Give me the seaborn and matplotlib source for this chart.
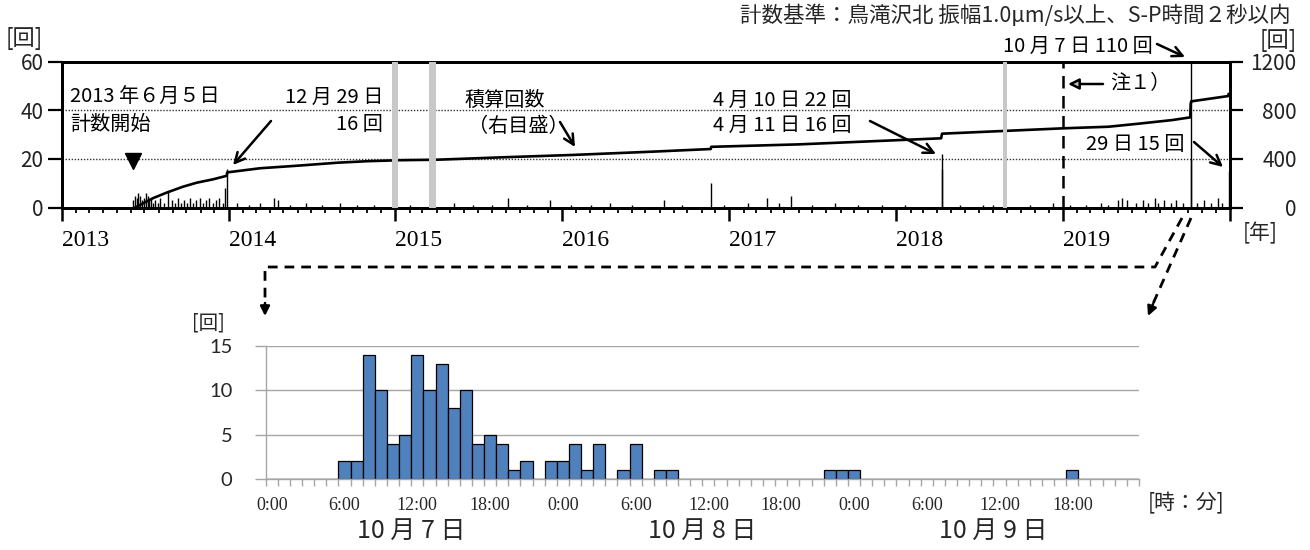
import numpy as np
import pandas as pd
import matplotlib
matplotlib.use("Agg")
import matplotlib.pyplot as plt
import matplotlib.dates as mdates
import matplotlib.transforms as mtransforms
from matplotlib.lines import Line2D
import seaborn as sns

# ---------------- data: long-term chart ----------------
# daily counts (left axis, bars)
spike_dates = [
    "2013-06-06", "2013-06-10", "2013-06-14", "2013-06-18", "2013-06-22", "2013-06-26",
    "2013-06-30", "2013-07-04", "2013-07-08", "2013-07-12", "2013-07-16", "2013-07-20",
    "2013-07-25", "2013-07-30", "2013-08-05", "2013-08-12", "2013-08-22", "2013-08-30",
    "2013-09-06", "2013-09-12", "2013-09-18", "2013-09-25", "2013-10-02", "2013-10-08",
    "2013-10-15", "2013-10-22", "2013-10-30", "2013-11-06", "2013-11-13", "2013-11-20",
    "2013-11-27", "2013-12-05", "2013-12-12", "2013-12-20", "2013-12-24", "2013-12-29",
    "2014-01-20", "2014-02-15", "2014-03-10", "2014-04-10", "2014-04-20", "2014-05-15",
    "2014-06-20", "2014-07-25", "2014-09-01", "2014-10-10", "2014-11-15",
    "2015-02-01", "2015-05-10", "2015-06-20", "2015-08-01", "2015-09-05", "2015-10-15",
    "2015-12-05",
    "2016-01-20", "2016-03-05", "2016-04-15", "2016-06-01", "2016-08-10", "2016-09-20",
    "2016-11-22", "2016-12-20",
    "2017-02-10", "2017-03-25", "2017-04-20", "2017-05-15", "2017-07-01", "2017-08-20",
    "2017-10-10", "2017-12-01",
    "2018-01-20", "2018-04-10", "2018-04-11", "2018-05-20", "2018-07-10", "2018-08-01",
    "2018-10-20", "2018-12-10",
    "2019-01-15", "2019-02-20", "2019-03-25", "2019-04-10", "2019-05-01", "2019-05-10",
    "2019-05-20", "2019-06-10", "2019-06-25", "2019-07-05", "2019-07-20", "2019-07-28",
    "2019-08-10", "2019-08-25", "2019-09-05", "2019-09-20", "2019-10-07", "2019-10-08",
    "2019-10-20", "2019-11-05", "2019-11-20", "2019-12-05", "2019-12-15", "2019-12-29",
]
spike_counts = [
    3, 5, 4, 6, 5, 3,
    4, 6, 5, 3, 4, 2,
    3, 2, 4, 2, 7, 3,
    2, 4, 2, 3, 2, 4,
    2, 3, 4, 2, 3, 4,
    2, 3, 4, 2, 8, 16,
    2, 1, 2, 4, 3, 1,
    2, 1, 2, 1, 1,
    1, 2, 1, 1, 4, 1,
    3,
    1, 1, 2, 1, 3, 1,
    10, 1,
    2, 4, 2, 5, 1, 2,
    1, 1,
    1, 22, 16, 1, 1, 1,
    1, 2,
    1, 1, 2, 1, 3, 4,
    3, 2, 3, 2, 4, 2,
    3, 2, 3, 2, 110, 20,
    2, 3, 2, 4, 2, 15,
]

# cumulative number (right axis)
cum_dates = [
    "2013-06-10", "2013-07-19", "2013-08-18", "2013-09-23", "2013-10-23", "2013-11-28",
    "2013-12-28", "2013-12-29", "2014-03-11", "2014-06-01", "2014-08-29", "2014-11-01",
    "2014-12-24", "2015-01-07", "2015-04-01", "2015-09-01", "2016-01-22", "2016-07-15",
    "2016-11-21", "2016-11-22", "2017-06-01", "2018-04-09", "2018-04-11", "2018-08-22",
    "2019-01-01", "2019-04-10", "2019-06-15", "2019-08-28", "2019-10-06", "2019-10-07",
    "2019-10-08", "2019-10-09", "2019-12-28", "2019-12-29",
]
cum_values = [
    0, 77, 123, 172, 205, 233,
    262, 290, 324, 345, 370, 382,
    388, 390, 394, 415, 433, 460,
    482, 500, 520, 570, 608, 630,
    652, 665, 690, 720, 742, 852,
    872, 874, 917, 935,
]

gap_starts = ["2014-12-25", "2015-03-15", "2018-08-22"]
gap_ends = ["2015-01-07", "2015-03-31", "2018-09-01"]
note_date = "2019-01-01"
start_date = "2013-06-05"

left_ticks = [0, 20, 40, 60]
right_ticks = [0, 400, 800, 1200]
year_ticks = ["2013", "2014", "2015", "2016", "2017", "2018", "2019", "2020"]
year_labels = ["2013", "2014", "2015", "2016", "2017", "2018", "2019", ""]

# ---------------- data: hourly histogram (10/7 - 10/9) ----------------
hist_hours = [6, 7, 8, 9, 10, 11, 12, 13, 14, 15, 16, 17, 18, 19, 20, 21,
              23, 24, 25, 26, 27, 29, 30, 32, 33, 46, 47, 48, 66]
hist_counts = [2, 2, 14, 10, 4, 5, 14, 10, 13, 8, 10, 4, 5, 4, 1, 2,
               2, 2, 4, 1, 4, 1, 4, 1, 1, 1, 1, 1, 1]
hist_tick_hours = [0, 6, 12, 18, 24, 30, 36, 42, 48, 54, 60, 66]
hist_tick_labels = ["0:00", "6:00", "12:00", "18:00"] * 3
day_hours = [12, 36, 60]
day_labels = ["10 月 7 日", "10 月 8 日", "10 月 9 日"]
hist_yticks = [0, 5, 10, 15]

# ---------------- styling ----------------
sns.set_theme(style="white")
plt.rcParams["font.family"] = ["Noto Sans CJK JP", "DejaVu Sans"]
plt.rcParams["axes.unicode_minus"] = False

W, H = 1310, 550
fig = plt.figure(figsize=(W / 100, H / 100), dpi=100)


def fx(x):
    return x / W


def fy(y):
    return 1 - y / H


# ---- top axes ----
L, R, T, B = 61.7, 1230, 61.6, 207.7
ax = fig.add_axes([fx(L), fy(B), (R - L) / W, (B - T) / H])
ax2 = ax.twinx()

sd = pd.to_datetime(spike_dates)
ax.vlines(sd, 0, spike_counts, color="black", lw=1.0, zorder=2)
ax.set_ylim(0, 60)
ax.set_yticks(left_ticks)
ax.grid(axis="y", ls=(0, (1, 1.2)), color="#333333", lw=1.0)
ax.grid(axis="x", visible=False)
ax.set_axisbelow(True)

cum_df = pd.DataFrame({"date": pd.to_datetime(cum_dates), "cum": cum_values})
sns.lineplot(data=cum_df, x="date", y="cum", ax=ax2, color="black", lw=1.9,
             estimator=None, zorder=3)
ax2.set_ylim(0, 1200)
ax2.set_yticks(right_ticks)
ax2.set_ylabel("")
ax2.set_xlabel("")
ax.set_xlabel("")
ax2.grid(False)

for s, e in zip(gap_starts, gap_ends):
    ax2.axvspan(pd.Timestamp(s), pd.Timestamp(e), color="#c8c8c8", lw=0, zorder=5)

ax2.axvline(pd.Timestamp(note_date), color="black", lw=1.8, ls=(0, (5, 3)), zorder=6)
ax2.plot([pd.Timestamp(start_date)], [19.2 * 20], marker="v", ms=11, color="black",
         ls="none", zorder=6, clip_on=False)

xt = pd.to_datetime(year_ticks)
ax.set_xlim(xt[0], xt[-1])
ax.set_xticks(xt)
ax.set_xticklabels(year_labels, family="Liberation Serif", fontsize=17)
for lab in ax.get_xticklabels():
    lab.set_horizontalalignment("left")
ax.xaxis.set_minor_locator(mdates.MonthLocator())
ax.tick_params(axis="x", which="major", direction="out", length=9, width=1.8,
               pad=7, bottom=True, colors="black")
ax.tick_params(axis="x", which="minor", direction="out", length=3.5, width=1.3,
               bottom=True, color="black")
ax.tick_params(axis="y", direction="out", length=10, width=1.6, pad=3, left=True,
               labelsize=15, colors="#222222")
ax.tick_params(axis="y", color="black")
ax2.tick_params(axis="y", direction="out", length=9, width=1.6, pad=39, right=True,
                labelsize=15, colors="#222222")
ax2.tick_params(axis="y", color="black")
for lab in ax2.get_yticklabels():
    lab.set_horizontalalignment("right")
for a in (ax, ax2):
    for sp in a.spines.values():
        sp.set_linewidth(2.0)
        sp.set_color("black")

# ---- top texts ----
txt = dict(fontsize=14.5, color="black")
fig.text(fx(1290), fy(16), "計数基準：鳥滝沢北 振幅1.0μm/s以上、S-P時間２秒以内",
         ha="right", va="center", fontsize=15.5)
fig.text(fx(6), fy(39), "[回]", ha="left", va="center", fontsize=16)
fig.text(fx(1297), fy(41), "[回]", ha="right", va="center", fontsize=16)
fig.text(fx(1243), fy(233), "[年]", ha="left", va="center", fontsize=15)
fig.text(fx(70), fy(97), "2013 年６月５日", ha="left", va="center", **txt)
fig.text(fx(70), fy(124), "計数開始", ha="left", va="center", **txt)
fig.text(fx(383), fy(97), "12 月 29 日", ha="right", va="center", **txt)
fig.text(fx(383), fy(124), "16 回", ha="right", va="center", **txt)
fig.text(fx(465), fy(100), "積算回数", ha="left", va="center", **txt)
fig.text(fx(468), fy(127), "（右目盛）", ha="left", va="center", **txt)
fig.text(fx(713), fy(100), "4 月 10 日 22 回", ha="left", va="center", **txt)
fig.text(fx(713), fy(125), "4 月 11 日 16 回", ha="left", va="center", **txt)
fig.text(fx(1153), fy(46), "10 月 7 日 110 回", ha="right", va="center", **txt)
fig.text(fx(1185), fy(144), "29 日 15 回", ha="right", va="center", **txt)
fig.text(fx(1110), fy(84), "注１）", ha="left", va="center", **txt)


def arrow(x1, y1, x2, y2, style="->", fc="black", ms=18):
    ax.annotate("", xy=(fx(x2), fy(y2)), xycoords="figure fraction",
                xytext=(fx(x1), fy(y1)), textcoords="figure fraction",
                arrowprops=dict(arrowstyle=style, lw=1.8, edgecolor="black",
                                facecolor=fc, mutation_scale=ms,
                                shrinkA=0, shrinkB=0),
                annotation_clip=False)


arrow(271, 121, 233, 165)
arrow(560, 122, 575, 147)
arrow(870, 121, 936, 154)
arrow(1157, 44, 1185, 57)
arrow(1194, 142, 1223, 167)
arrow(1103, 84, 1068, 84, style="-|>", fc="#c0c0c0", ms=16)

# ---- connector dashed lines ----
dash = dict(color="black", lw=2.0, ls=(0, (3.5, 2.5)), transform=fig.transFigure)
fig.add_artist(Line2D([fx(1182), fx(1155), fx(265), fx(265)],
                      [fy(218), fy(267), fy(267), fy(306)], **dash))
fig.add_artist(Line2D([fx(1191), fx(1152)], [fy(218), fy(306)], **dash))
arrow(265, 303, 265, 316, style="-|>", ms=14)
arrow(1153, 304, 1148, 316, style="-|>", ms=14)

# ---- histogram ----
HL, HR, HT, HB = 265.7, 1139, 346, 479
axh = fig.add_axes([fx(HL), fy(HB), (HR - HL) / W, (HB - HT) / H])
hist_df = pd.DataFrame({"hour": [h + 0.5 for h in hist_hours], "n": hist_counts})
sns.histplot(data=hist_df, x="hour", weights="n", bins=72, binrange=(0, 72), ax=axh,
             color="#4F81BD", edgecolor="black", linewidth=0.9, alpha=1.0)
axh.set_xlim(0, 72)
axh.set_ylim(0, 15)
axh.set_ylabel("")
axh.set_xlabel("")
axh.set_yticks(hist_yticks)
axh.set_yticklabels([str(v) for v in hist_yticks], family="Lato", fontsize=14.5)
axh.grid(axis="y", color="#a6a6a6", lw=1.0)
axh.grid(axis="x", visible=False)
axh.set_axisbelow(True)
axh.set_xticks([h + 0.5 for h in hist_tick_hours])
axh.set_xticklabels(hist_tick_labels, family="Liberation Serif", fontsize=13)
axh.set_xticks(np.arange(0, 73, 1), minor=True)
axh.tick_params(axis="x", which="major", length=0, pad=13)
axh.tick_params(axis="x", which="minor", length=5, width=1, color="#a6a6a6",
                direction="out", bottom=True)
axh.tick_params(axis="y", length=8, width=1, color="#a6a6a6", direction="out",
                left=True, pad=16)
for side in ("top", "right"):
    axh.spines[side].set_visible(False)
for side in ("left", "bottom"):
    axh.spines[side].set_color("#a6a6a6")
    axh.spines[side].set_linewidth(1.0)

trans = mtransforms.blended_transform_factory(axh.transData, fig.transFigure)
for h, lab in zip(day_hours, day_labels):
    axh.text(h, fy(531), lab, transform=trans, ha="center", va="center", fontsize=18)
fig.text(fx(192), fy(323), "[回]", ha="left", va="center", fontsize=14)
fig.text(fx(1148), fy(503), "[時：分]", ha="left", va="center", fontsize=15)

fig.savefig("out.png", dpi=100)
